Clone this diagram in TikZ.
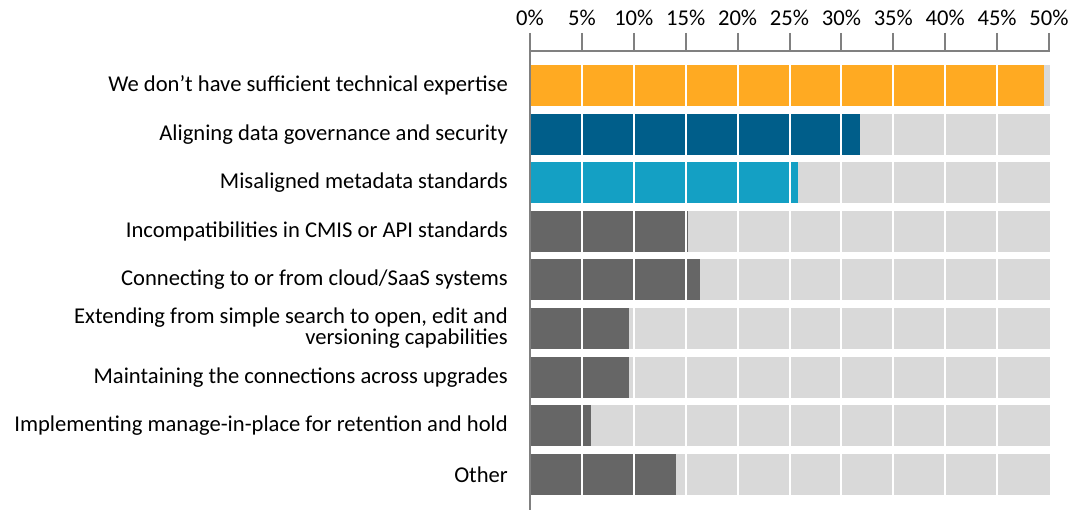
\documentclass[tikz,border=0pt]{standalone}
\usepackage{fontspec}
\setmainfont{Carlito}
\usepackage{tikz}

\definecolor{barorange}{RGB}{255,170,34}
\definecolor{bardarkblue}{RGB}{0,94,138}
\definecolor{barlightblue}{RGB}{20,160,196}
\definecolor{bargray}{RGB}{102,102,102}
\definecolor{barback}{RGB}{217,217,217}
\definecolor{axisgray}{RGB}{128,128,128}

\begin{document}
\begin{tikzpicture}[x=1pt,y=-1pt,font=\fontsize{22.6}{21}\selectfont]
\useasboundingbox (0,0) rectangle (1070,510);

\foreach \v/\c/\i in {49.5/barorange/0, 31.75/bardarkblue/1, 25.8/barlightblue/2,
  15.2/bargray/3, 16.4/bargray/4, 9.5/bargray/5, 9.5/bargray/6, 5.85/bargray/7, 14.1/bargray/8}{
  \fill[barback] (531,{65+48.6*\i}) rectangle (1050,{106+48.6*\i}) ;
  \fill[\c] (531,{65+48.6*\i}) rectangle ({530+10.38*\v},{106+48.6*\i}) ;
}

\foreach \p in {5,10,...,45}
  \draw[white,line width=2pt] ({530+10.38*\p},60) -- ({530+10.38*\p},500) ;

\draw[axisgray,line width=2pt] (530,33) -- (530,510) ;
\draw[axisgray,line width=2pt] (529,51) -- (1050,51) ;
\foreach \p in {5,10,...,50}
  \draw[axisgray,line width=2pt] ({530+10.38*\p},33) -- ({530+10.38*\p},51) ;
\foreach \p in {0,5,...,50}
  \node (t\p) at ({530+10.38*\p},18) {\p\%} ;

\tikzset{every node/.append style={inner xsep=0pt}}
\node[anchor=east] (l1) at (508,85.5) {We don’t have sufficient technical expertise} ;
\node[anchor=east] (l2) at (508,134.1) {Aligning data governance and security} ;
\node[anchor=east] (l3) at (508,182.7) {Misaligned metadata standards} ;
\node[anchor=east] (l4) at (508,231.3) {Incompatibilities in CMIS or API standards} ;
\node[anchor=east] (l5) at (508,279.9) {Connecting to or from cloud/SaaS systems} ;
\node[anchor=east,align=right] (l6) at (508,328.5) {Extending from simple search to open, edit and\\versioning capabilities} ;
\node[anchor=east] (l7) at (508,377.1) {Maintaining the connections across upgrades} ;
\node[anchor=east] (l8) at (508,425.7) {Implementing manage-in-place for retention and hold} ;
\node[anchor=east] (l9) at (508,474.3) {Other} ;

\end{tikzpicture}
\end{document}
